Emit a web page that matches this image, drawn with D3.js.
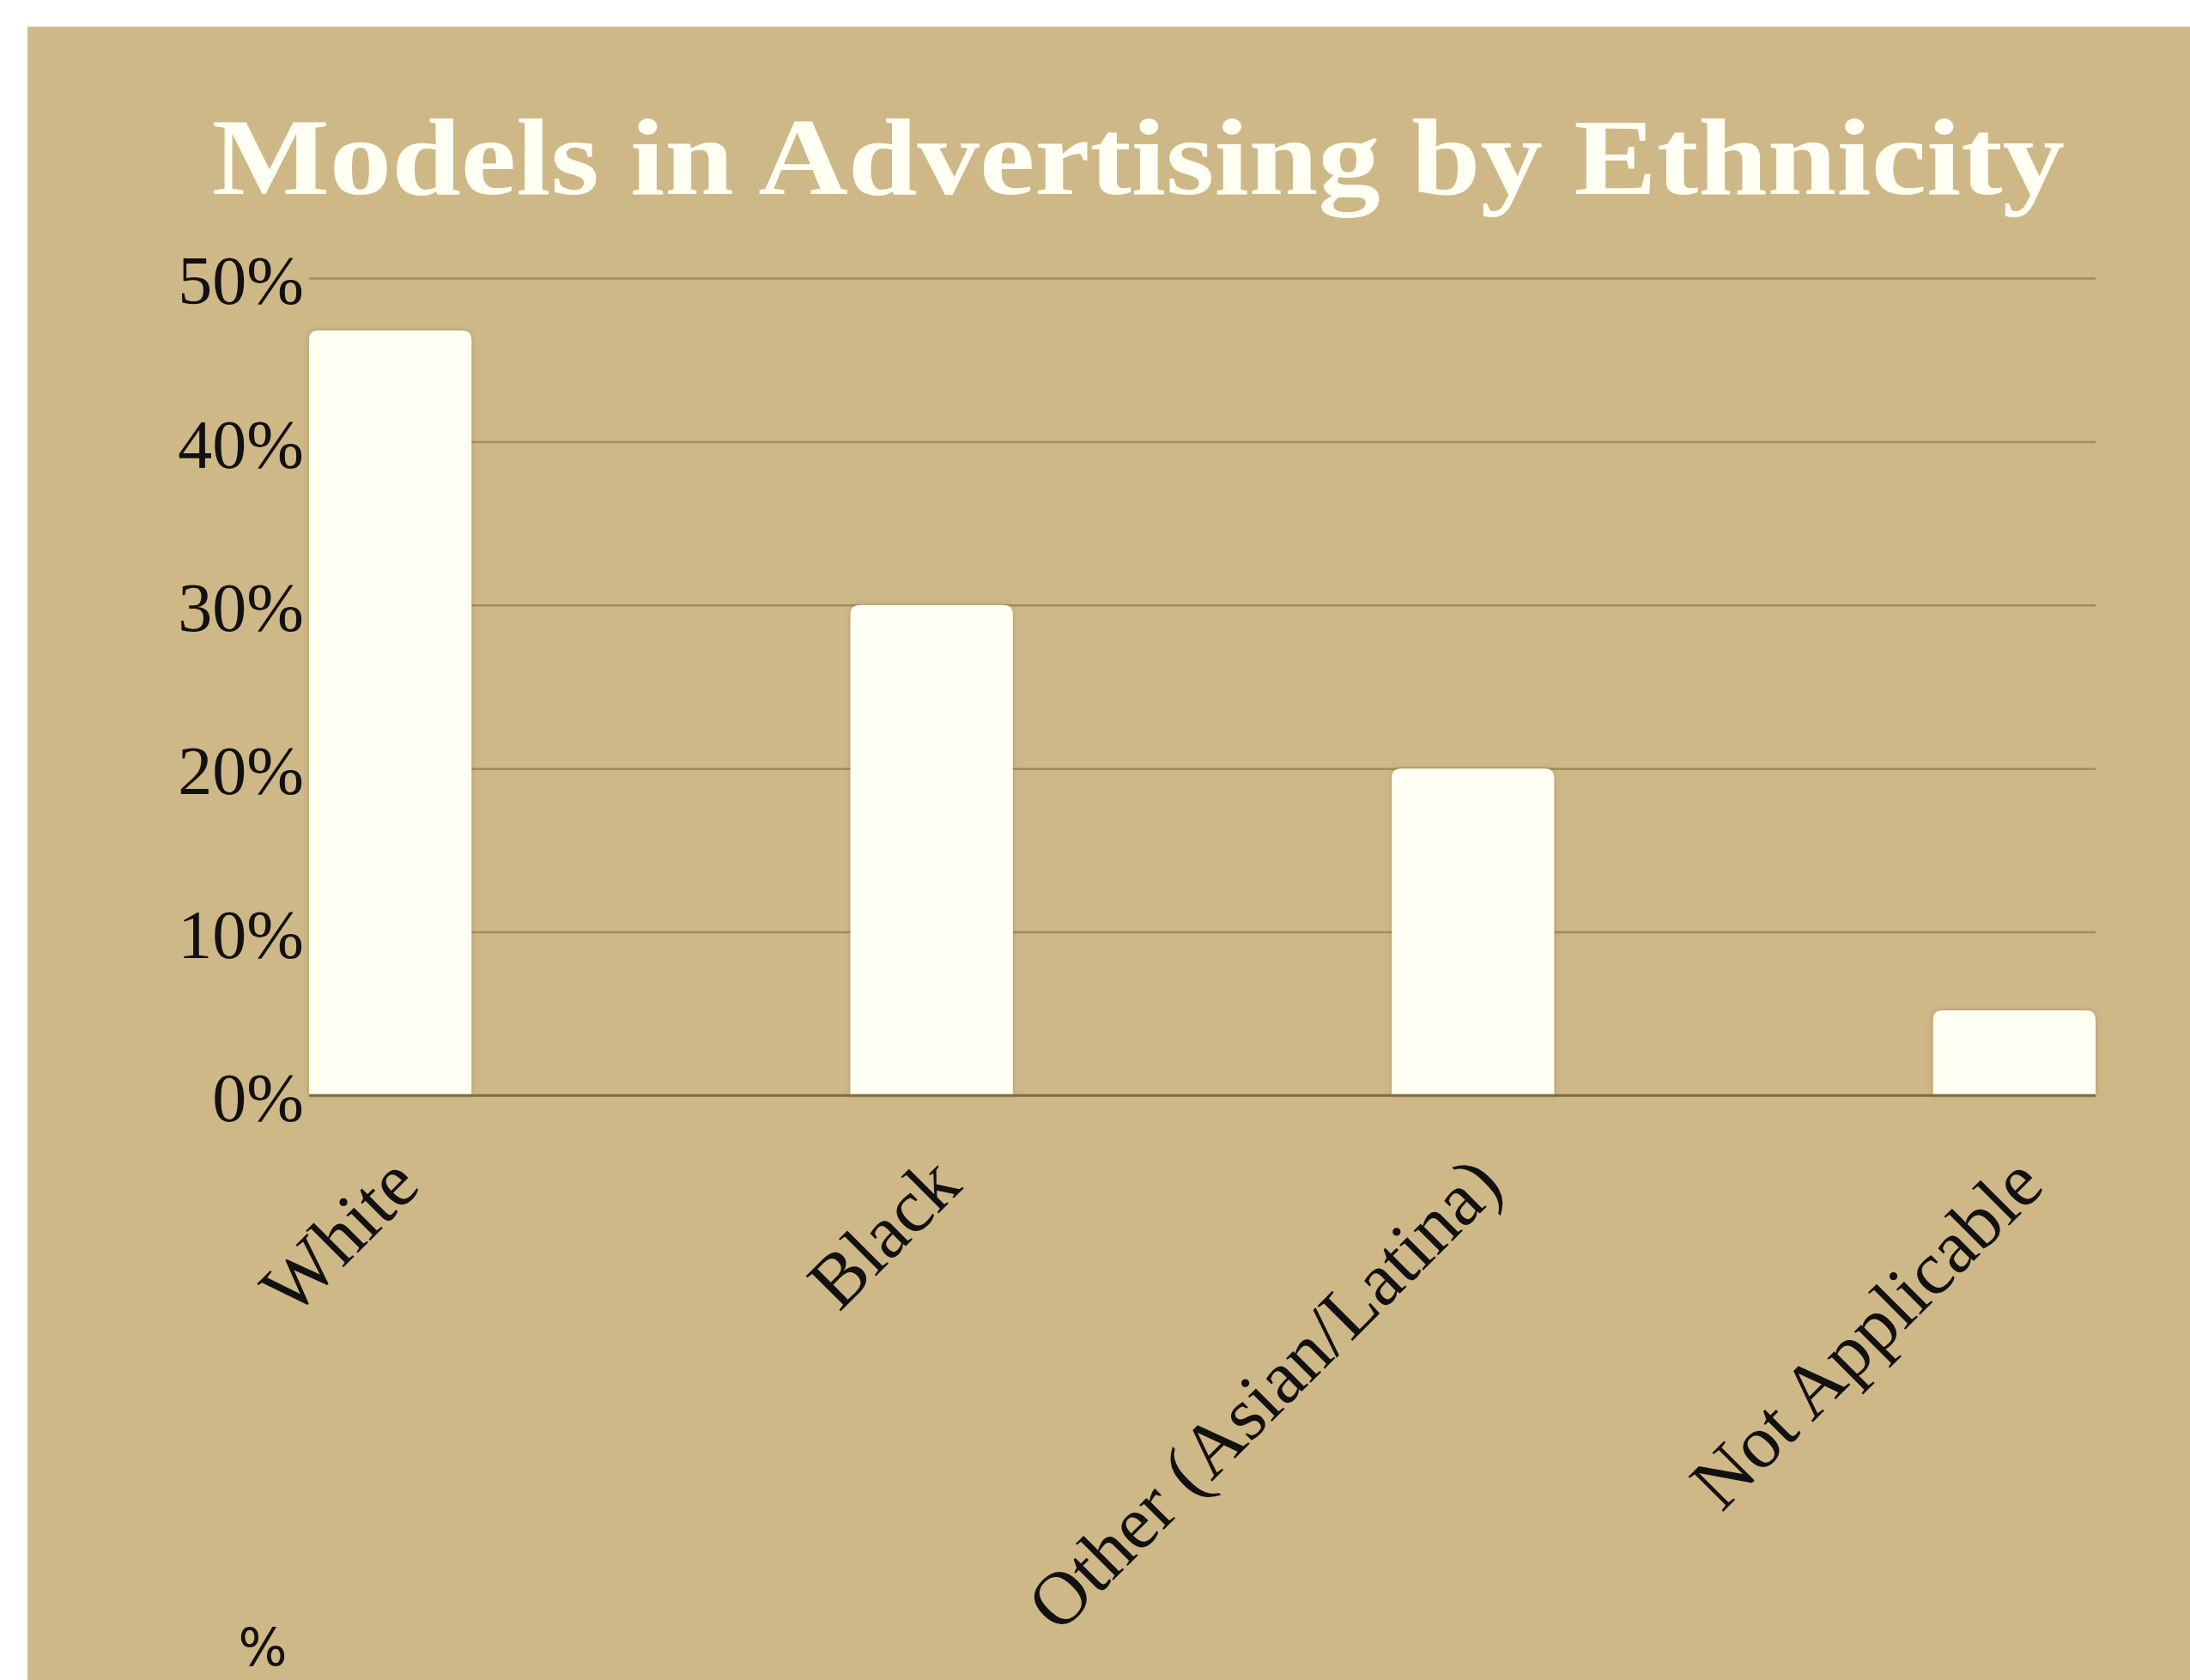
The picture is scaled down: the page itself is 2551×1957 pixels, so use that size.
<!DOCTYPE html>
<html>
<head>
<meta charset="utf-8">
<script src="https://cdn.jsdelivr.net/npm/d3@7"></script>
<style>
  html, body { margin: 0; padding: 0; background: #ffffff; }
</style>
</head>
<body>
<div id="chart"></div>
<script>
var categories = ["White", "Black", "Other (Asian/Latina)", "Not Applicable"];
var shares = [46.8, 30, 20, 5.2];
var yTicks = [0, 10, 20, 30, 40, 50];

var W = 2551, H = 1957;
var margin = {top: 324, right: 110, bottom: 681, left: 360};
var width = W - margin.left - margin.right;
var height = H - margin.top - margin.bottom;

var svg = d3.select("#chart")
    .append("svg")
    .attr("width", W)
    .attr("height", H);

// tan panel, white strip top and left
svg.append("rect")
    .attr("x", 32).attr("y", 31)
    .attr("width", W - 32).attr("height", H - 31)
    .attr("fill", "#cfb887");

var defs = svg.append("defs");
var shadow = defs.append("filter").attr("id", "barShadow")
    .attr("x", "-10%").attr("y", "-10%").attr("width", "120%").attr("height", "120%");
shadow.append("feDropShadow")
    .attr("dx", 0).attr("dy", 0)
    .attr("stdDeviation", 3)
    .attr("flood-color", "#6b5a36")
    .attr("flood-opacity", 0.35);

// title (stretched a bit, the original face is wider)
svg.append("text")
    .attr("x", 1326)
    .attr("y", 226)
    .attr("text-anchor", "middle")
    .attr("textLength", 2158)
    .attr("lengthAdjust", "spacingAndGlyphs")
    .style("font-family", "'Liberation Serif', serif")
    .style("font-weight", "bold")
    .style("font-size", "126px")
    .style("fill", "#fffff4")
    .text("Models in Advertising by Ethnicity");

var g = svg.append("g")
    .attr("transform", "translate(" + margin.left + "," + margin.top + ")");

var x = d3.scaleBand()
    .domain(categories)
    .range([0, width])
    .paddingInner(0.7)
    .paddingOuter(0);

var y = d3.scaleLinear()
    .domain([0, 50])
    .range([height, 0]);

// y axis + gridlines
var yAxis = g.append("g")
    .attr("class", "y_axis")
    .call(d3.axisLeft(y)
        .tickValues(yTicks)
        .tickSize(-width)
        .tickPadding(6)
        .tickFormat(function(d) { return d + "%"; }));
yAxis.select(".domain").remove();
yAxis.selectAll(".tick line")
    .attr("stroke", "#a38b5a")
    .attr("stroke-width", 2.5);
yAxis.selectAll(".tick text")
    .attr("dy", "0.37em")
    .style("font-family", "'Liberation Serif', serif")
    .style("font-size", "80px")
    .style("fill", "#111");

// bars with rounded top corners
var r = 11;
g.append("g")
    .selectAll("path")
    .data(shares)
    .enter()
    .append("path")
    .attr("filter", "url(#barShadow)")
    .attr("fill", "#fffff3")
    .attr("d", function(d, i) {
        var x0 = x(categories[i]), x1 = x0 + x.bandwidth();
        var y0 = y(d), yb = y(0);
        return "M" + x0 + "," + yb +
            "V" + (y0 + r) +
            "Q" + x0 + "," + y0 + " " + (x0 + r) + "," + y0 +
            "H" + (x1 - r) +
            "Q" + x1 + "," + y0 + " " + x1 + "," + (y0 + r) +
            "V" + yb + "Z";
    });

// baseline
g.append("line")
    .attr("x1", 0).attr("x2", width)
    .attr("y1", y(0)).attr("y2", y(0))
    .attr("stroke", "#7f6c45")
    .attr("stroke-width", 3);

// x axis labels, rotated
var xAxis = g.append("g")
    .attr("class", "x_axis")
    .attr("transform", "translate(0," + height + ")")
    .call(d3.axisBottom(x).tickSize(0));
xAxis.select(".domain").remove();
xAxis.selectAll(".tick text")
    .attr("transform", "rotate(-45)")
    .attr("text-anchor", "end")
    .attr("x", -50)
    .attr("y", 103)
    .attr("dy", 0)
    .style("font-family", "'Liberation Serif', serif")
    .style("font-size", "88px")
    .style("fill", "#111");

// unit label bottom left
svg.append("text")
    .attr("x", 306)
    .attr("y", 1940)
    .attr("text-anchor", "middle")
    .style("font-family", "'DejaVu Sans', sans-serif")
    .style("font-size", "60px")
    .style("fill", "#111")
    .text("%");
</script>
</body>
</html>
